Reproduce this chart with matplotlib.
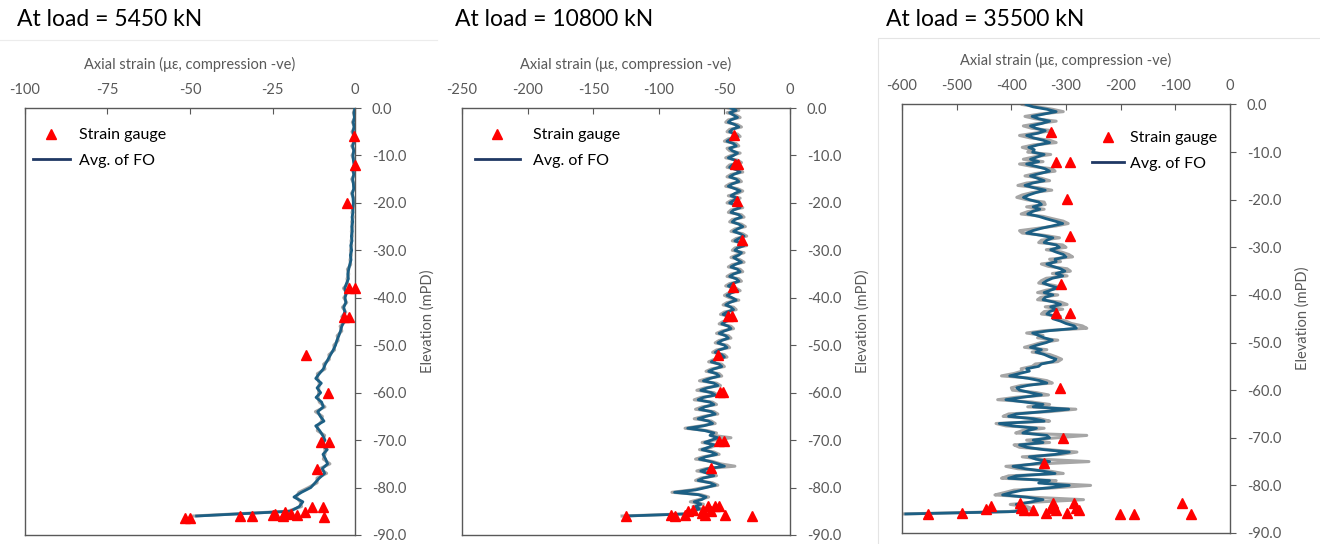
import matplotlib
matplotlib.use('Agg')
import matplotlib.pyplot as plt
import numpy as np
from matplotlib.lines import Line2D
from matplotlib.patches import Rectangle

plt.rcParams['font.family'] = ['Lato', 'DejaVu Sans']
plt.rcParams['axes.unicode_minus'] = False

# elevation of fibre-optic readings (mPD)
elev_1m = np.append(np.arange(0, -86, -1.0), -86.0)
elev_half = np.arange(0, -86.5, -0.5)

# --- load 5450 kN ---
avg_1 = [0.0, -0.3, -0.2, -0.5, -0.3, -0.6, -0.4, -0.3, -0.7, -0.4, -0.6,
         -0.5, -0.3, -0.6, -0.4, -0.7, -0.5, -0.4, -0.8, -0.6, -0.5,
         -0.7, -0.6, -0.9, -0.7, -1.0, -0.8, -1.1, -0.9, -1.3, -1.0,
         -1.4, -1.2, -1.6, -1.9, -2.2, -2.0, -2.6, -3.1, -2.7, -3.0,
         -2.8, -3.4, -3.1, -3.6, -3.3, -4.0, -4.4, -4.9, -5.5, -5.9,
         -6.6, -7.4, -8.2, -9.0, -9.6, -10.8, -11.9, -10.2, -11.5, -10.4,
         -11.8, -10.1, -9.6, -11.3, -10.5, -9.4, -11.9, -10.7, -9.8, -9.1,
         -10.0, -8.4, -9.7, -8.9, -8.3, -9.9, -9.2, -10.8, -12.1, -13.4,
         -16.2, -18.5, -15.8, -16.9, -19.6, -48.0]
raw_1 = [0.0, -0.5, 0.0, -0.8, -0.1, -0.9, -0.2, -0.1, -1.0, -0.2, -0.9,
         -0.3, -0.1, -0.9, -0.2, -1.0, -0.3, -0.2, -1.1, -0.4, -0.3,
         -0.5, -0.9, -0.6, -1.0, -0.7, -1.1, -0.8, -1.2, -1.0, -1.4,
         -1.1, -1.5, -1.3, -2.3, -1.9, -2.4, -2.2, -3.5, -2.4, -3.4,
         -2.5, -3.8, -2.8, -4.0, -3.0, -4.5, -4.0, -5.4, -5.1, -6.4,
         -6.2, -7.9, -7.8, -9.5, -9.1, -11.4, -11.3, -10.8, -11.0, -11.0,
         -11.2, -10.8, -9.1, -12.0, -9.9, -10.1, -11.3, -11.4, -9.2, -9.8,
         -9.4, -9.1, -9.1, -9.6, -7.6, -10.6, -8.6, -11.5, -11.5, -14.1,
         -17.0, -17.8, -16.6, -16.2, -20.4, -49.0]
sg_x1 = [-0.3, 0, -2.5, -1.7, 0, -3.3, -1.8, -14.8, -8.3, -10.3, -7.8, -11.6,
         -9.6, -9.3, -13.1, -15.2, -17.7, -19.5, -21.2, -21.9, -24.2, -24.9,
         -31.3, -34.8, -50.0, -51.5]
sg_y1 = [-5.9, -12.0, -20.0, -38.0, -38.0, -44.0, -44.0, -52.1, -60.0, -70.3,
         -70.3, -76.0, -84.0, -86.3, -84.0, -85.2, -85.8, -85.5, -85.1, -86.1,
         -85.6, -85.7, -86.0, -86.0, -86.4, -86.4]

# --- load 10800 kN (0.5 m spacing) ---
avg_2 = [-45, -41, -46, -43, -40, -45, -47, -42, -39, -44,
         -46, -42, -40, -45, -48, -43, -41, -46, -44, -40,
         -43, -47, -42, -39, -44, -46, -41, -38, -43, -46,
         -41, -39, -44, -47, -42, -38, -42, -45, -40, -43,
         -46, -41, -38, -43, -45, -39, -37, -42, -44, -39,
         -36, -40, -43, -38, -35, -39, -42, -37, -35, -40,
         -42, -37, -39, -43, -40, -37, -42, -45, -40, -38,
         -43, -46, -41, -39, -44, -47, -43, -40, -45, -48,
         -44, -41, -46, -49, -45, -43, -48, -51, -46, -44,
         -49, -52, -47, -45, -50, -54, -49, -47, -52, -55,
         -50, -48, -54, -57, -52, -50, -56, -60, -54, -52,
         -58, -62, -56, -54, -61, -66, -58, -55, -63, -68,
         -60, -57, -66, -70, -61, -58, -65, -69, -60, -57,
         -64, -70, -62, -59, -66, -78, -65, -58, -61, -55,
         -60, -65, -58, -62, -67, -60, -56, -64, -69, -61,
         -55, -50, -62, -68, -63, -58, -66, -70, -61, -57,
         -64, -72, -88, -70, -64, -67, -73, -68, -72, -69,
         -75, -73, -125]
raw_2 = [-47, -39, -48, -41, -38, -47, -49, -40, -37, -46,
         -48, -40, -38, -47, -50, -41, -39, -48, -46, -38,
         -45, -49, -40, -37, -46, -48, -39, -36, -45, -48,
         -39, -37, -46, -49, -40, -36, -40, -47, -38, -45,
         -48, -39, -36, -45, -47, -37, -35, -44, -46, -37,
         -34, -42, -45, -36, -33, -41, -44, -35, -33, -42,
         -44, -35, -41, -45, -38, -35, -44, -47, -38, -36,
         -45, -48, -39, -37, -46, -49, -41, -38, -47, -50,
         -46, -39, -48, -51, -43, -41, -50, -53, -44, -42,
         -51, -54, -45, -43, -52, -56, -47, -45, -54, -57,
         -48, -46, -56, -59, -50, -48, -58, -62, -52, -50,
         -60, -64, -54, -52, -63, -69, -56, -53, -65, -71,
         -58, -55, -68, -73, -59, -56, -67, -72, -58, -55,
         -66, -73, -60, -57, -68, -80, -63, -56, -59, -45,
         -58, -67, -56, -60, -69, -58, -54, -66, -72, -59,
         -53, -42, -64, -71, -61, -56, -68, -72, -59, -55,
         -66, -75, -90, -68, -62, -69, -76, -66, -74, -67,
         -77, -75, -128]
sg_x2 = [-43, -41.9, -39.4, -40.1, -36.3, -43.2, -47.5, -44.5, -54.6, -53.4,
         -50.8, -53.8, -50.3, -60.5, -62.3, -57.2, -53.8, -66, -60.5, -67.3,
         -64.8, -73.6, -77.4, -80, -87.6, -90.7, -49.5, -29.2, -125.3]
sg_y2 = [-5.7, -11.8, -11.8, -19.7, -27.8, -37.8, -43.9, -43.9, -52.1, -59.8,
         -59.8, -70.2, -70.2, -75.8, -83.9, -83.9, -83.9, -84.7, -85.0, -85.4,
         -85.7, -84.7, -85.0, -85.7, -86.1, -85.7, -85.7, -86.1, -86.1]

# --- load 35500 kN (0.5 m spacing) ---
avg_3 = [-373, -360, -335, -318, -340, -362, -350, -330, -345, -365,
         -355, -338, -350, -372, -360, -342, -330, -352, -368, -358,
         -361, -340, -352, -365, -350, -372, -355, -338, -330, -348,
         -365, -352, -340, -361, -375, -358, -338, -355, -368, -378,
         -367, -350, -345, -360, -348, -362, -370, -350, -336, -320,
         -306, -325, -345, -361, -372, -345, -324, -335, -340, -318,
         -312, -328, -318, -305, -300, -320, -318, -335, -324, -310,
         -302, -318, -306, -325, -335, -342, -330, -316, -328, -340,
         -324, -338, -342, -322, -310, -328, -318, -330, -335, -320,
         -324, -310, -300, -285, -281, -330, -361, -350, -340, -325,
         -336, -352, -365, -345, -355, -340, -330, -318, -324, -345,
         -350, -372, -367, -385, -403, -370, -348, -335, -370, -390,
         -385, -365, -345, -380, -410, -375, -342, -360, -295, -340,
         -391, -405, -360, -340, -422, -398, -354, -370, -379, -335,
         -330, -360, -342, -385, -372, -340, -294, -320, -367, -355,
         -330, -360, -397, -375, -342, -320, -391, -405, -330, -350,
         -294, -330, -380, -400, -416, -370, -342, -365, -391, -380,
         -373, -395, -593]
raw_3 = [-380, -352, -325, -305, -348, -375, -356, -318, -352, -378,
         -362, -325, -356, -385, -366, -330, -318, -360, -380, -364,
         -370, -328, -358, -378, -342, -385, -362, -325, -320, -356,
         -375, -345, -330, -372, -388, -350, -326, -362, -380, -390,
         -372, -340, -338, -372, -340, -370, -382, -342, -324, -305,
         -296, -318, -352, -385, -380, -338, -312, -345, -350, -306,
         -300, -336, -308, -295, -288, -330, -310, -345, -332, -298,
         -292, -325, -298, -336, -345, -350, -322, -305, -336, -352,
         -315, -346, -352, -310, -298, -338, -306, -340, -345, -310,
         -315, -300, -290, -270, -262, -340, -372, -342, -352, -315,
         -345, -360, -376, -335, -362, -330, -318, -308, -315, -356,
         -362, -382, -380, -395, -418, -360, -335, -325, -382, -400,
         -398, -355, -332, -392, -425, -362, -330, -370, -282, -330,
         -405, -415, -348, -330, -428, -410, -340, -380, -392, -262,
         -318, -372, -330, -395, -385, -330, -280, -310, -380, -345,
         -258, -350, -410, -388, -330, -305, -405, -418, -318, -340,
         -255, -320, -395, -412, -430, -360, -268, -355, -402, -370,
         -360, -405, -600]
sg_x3 = [-327, -318, -292, -298, -292, -309, -318, -292, -311, -306, -341,
         -88, -72, -176, -202, -285, -281, -276, -298, -323, -319, -336,
         -327, -361, -377, -382, -385, -437, -447, -491, -553]
sg_y3 = [-5.8, -12.0, -12.0, -19.8, -27.7, -37.7, -43.8, -43.8, -59.6, -70.0,
         -75.4, -83.7, -86.1, -86.1, -86.1, -83.7, -84.8, -85.1, -85.8, -83.7,
         -85.1, -85.8, -84.8, -85.1, -85.1, -84.8, -83.7, -84.4, -84.9, -85.7,
         -86.1]

titles = ['At load = 5450 kN', 'At load = 10800 kN', 'At load = 35500 kN']
xlims = [(-100, 0), (-250, 0), (-600, 0)]
xticks = [np.arange(-100, 1, 25), np.arange(-250, 1, 50), np.arange(-600, 1, 100)]
yticks = np.arange(0, -91, -10)
elevs = [elev_1m, elev_half, elev_half]
avgs = [avg_1, avg_2, avg_3]
raws = [raw_1, raw_2, raw_3]
sgx = [sg_x1, sg_x2, sg_x3]
sgy = [sg_y1, sg_y2, sg_y3]

ax_pos = [[25 / 1320, 9 / 544, 330 / 1320, 427 / 544],
          [462 / 1320, 9 / 544, 328 / 1320, 427 / 544],
          [902 / 1320, 11 / 544, 328 / 1320, 428.5 / 544]]
title_x = [17, 455, 886]
leg_anchor = [(0.024, 0.953), (0.04, 0.953), (0.58, 0.938)]
leg_hlen = [2.3, 2.8, 2.0]
leg_pad = [0.6, 0.8, 0.35]

grey = '#595959'
fig = plt.figure(figsize=(13.2, 5.44), dpi=100)

# faint chart-area borders
fig.add_artist(Rectangle((878 / 1320, -0.1), 0.5, 1.1 - 38 / 544, transform=fig.transFigure,
                         fill=False, edgecolor='#e4e4e4', lw=0.8))
fig.add_artist(Line2D([0, 437 / 1320], [1 - 40 / 544] * 2, transform=fig.transFigure,
                      color='#ececec', lw=0.8))

for i in range(3):
    ax = fig.add_axes(ax_pos[i])
    ax.plot(raws[i], elevs[i], color='#a6a6a6', lw=2.2, zorder=2)
    ax.plot(avgs[i], elevs[i], color='#1c5f84', lw=2.0, zorder=3)
    ax.plot(sgx[i], sgy[i], '^', color='red', ms=6.5, zorder=4, clip_on=False)

    ax.set_xlim(*xlims[i])
    ax.set_ylim(-90, 0)
    ax.set_xticks(xticks[i])
    ax.set_yticks(yticks)
    ax.set_yticklabels(['%.1f' % v for v in yticks])
    ax.xaxis.tick_top()
    ax.xaxis.set_label_position('top')
    ax.yaxis.tick_right()
    ax.yaxis.set_label_position('right')
    ax.tick_params(axis='x', direction='in', length=4, color=grey, labelcolor=grey,
                   labelsize=10.5, pad=8)
    ax.tick_params(axis='y', direction='out', length=4, color=grey, labelcolor=grey,
                   labelsize=10.5, pad=8)
    for sp in ax.spines.values():
        sp.set_color(grey)
        sp.set_linewidth(1.0)
    ax.set_xlabel('Axial strain (\u03bc\u03b5, compression -ve)', color=grey,
                  fontsize=10.5, labelpad=10)
    ax.set_ylabel('Elevation (mPD)', color=grey, fontsize=10.5, labelpad=10)

    handles = [Line2D([], [], marker='^', color='red', ls='none', ms=7),
               Line2D([], [], color='#1f3864', lw=2)]
    ax.legend(handles, ['Strain gauge', 'Avg. of FO'], loc='upper left',
              bbox_to_anchor=leg_anchor[i], frameon=False, fontsize=11.5,
              borderaxespad=0, borderpad=0,
              handlelength=leg_hlen[i], handletextpad=leg_pad[i], labelspacing=0.7)

    fig.text(title_x[i] / 1320, 1 - 20 / 544, titles[i], fontsize=16.5,
             va='center', ha='left', color='black')

fig.savefig('out.png', dpi=100)
